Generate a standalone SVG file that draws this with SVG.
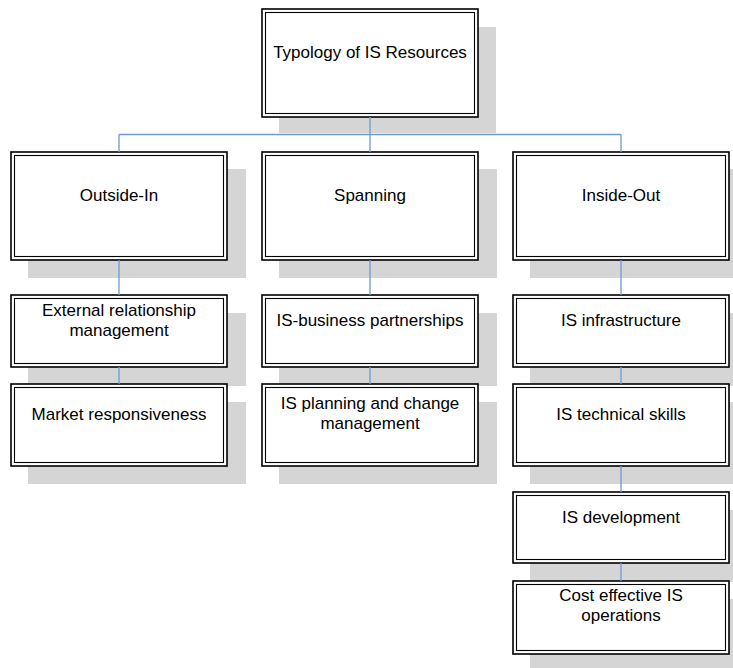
<svg xmlns="http://www.w3.org/2000/svg" width="733" height="668" viewBox="0 0 733 668">
  <style>
    .shadow { fill: #d5d5d5; stroke: none; }
    .outer { fill: #ffffff; stroke: #000000; stroke-width: 1.6; }
    .inner { fill: none; stroke: #000000; stroke-width: 1.1; }
    .label { font-family: "Liberation Sans", Arial, sans-serif; font-size: 17px; fill: #000000; text-anchor: middle; }
    .conn { stroke: #6b9bd6; stroke-width: 1.3; fill: none; }
  </style>
  <rect width="733" height="668" fill="#ffffff"/>

  <!-- root -->
  <g id="root">
    <rect class="shadow" x="279" y="27" width="217" height="106"/>
    <rect class="outer" x="262" y="9" width="216" height="108"/>
    <rect class="inner" x="265.5" y="12.5" width="209" height="101"/>
    <text class="label" x="370" y="58">Typology of IS Resources</text>
  </g>

  <!-- level 2 -->
  <g id="outside-in">
    <rect class="shadow" x="28" y="169" width="218" height="109"/>
    <rect class="outer" x="11" y="152" width="216" height="108"/>
    <rect class="inner" x="14.5" y="155.5" width="209" height="101"/>
    <text class="label" x="119" y="201">Outside-In</text>
  </g>
  <g id="spanning">
    <rect class="shadow" x="279" y="169" width="218" height="109"/>
    <rect class="outer" x="262" y="152" width="216" height="108"/>
    <rect class="inner" x="265.5" y="155.5" width="209" height="101"/>
    <text class="label" x="370" y="201">Spanning</text>
  </g>
  <g id="inside-out">
    <rect class="shadow" x="530" y="169" width="218" height="109"/>
    <rect class="outer" x="513" y="152" width="216" height="108"/>
    <rect class="inner" x="516.5" y="155.5" width="209" height="101"/>
    <text class="label" x="621" y="201">Inside-Out</text>
  </g>

  <!-- outside-in column -->
  <g id="external-relationship">
    <rect class="shadow" x="28" y="313" width="218" height="73"/>
    <rect class="outer" x="11" y="295" width="216" height="72"/>
    <rect class="inner" x="14.5" y="298.5" width="209" height="65"/>
    <text class="label" x="119" y="316">External relationship</text>
    <text class="label" x="119" y="336">management</text>
  </g>
  <g id="market-responsiveness">
    <rect class="shadow" x="28" y="402" width="218" height="82"/>
    <rect class="outer" x="11" y="384" width="216" height="82"/>
    <rect class="inner" x="14.5" y="387.5" width="209" height="75"/>
    <text class="label" x="119" y="420">Market responsiveness</text>
  </g>

  <!-- spanning column -->
  <g id="is-business-partnerships">
    <rect class="shadow" x="279" y="313" width="218" height="73"/>
    <rect class="outer" x="262" y="295" width="216" height="72"/>
    <rect class="inner" x="265.5" y="298.5" width="209" height="65"/>
    <text class="label" x="370" y="326">IS-business partnerships</text>
  </g>
  <g id="is-planning">
    <rect class="shadow" x="279" y="402" width="218" height="82"/>
    <rect class="outer" x="262" y="384" width="216" height="82"/>
    <rect class="inner" x="265.5" y="387.5" width="209" height="75"/>
    <text class="label" x="370" y="409">IS planning and change</text>
    <text class="label" x="370" y="429">management</text>
  </g>

  <!-- inside-out column -->
  <g id="is-infrastructure">
    <rect class="shadow" x="530" y="313" width="218" height="73"/>
    <rect class="outer" x="513" y="295" width="216" height="72"/>
    <rect class="inner" x="516.5" y="298.5" width="209" height="65"/>
    <text class="label" x="621" y="326">IS infrastructure</text>
  </g>
  <g id="is-technical-skills">
    <rect class="shadow" x="530" y="402" width="218" height="82"/>
    <rect class="outer" x="513" y="384" width="216" height="82"/>
    <rect class="inner" x="516.5" y="387.5" width="209" height="75"/>
    <text class="label" x="621" y="420">IS technical skills</text>
  </g>
  <g id="is-development">
    <rect class="shadow" x="530" y="510" width="218" height="72"/>
    <rect class="outer" x="513" y="492" width="216" height="71"/>
    <rect class="inner" x="516.5" y="495.5" width="209" height="64"/>
    <text class="label" x="621" y="523">IS development</text>
  </g>
  <g id="cost-effective-operations">
    <rect class="shadow" x="530" y="599" width="218" height="80"/>
    <rect class="outer" x="513" y="581" width="216" height="73"/>
    <rect class="inner" x="516.5" y="584.5" width="209" height="66"/>
    <text class="label" x="621" y="601">Cost effective IS</text>
    <text class="label" x="621" y="621">operations</text>
  </g>

  <!-- connectors -->
  <g id="connectors">
    <path class="conn" d="M370 117 V134.5 M119 134.5 H621 M119 134.5 V152 M370 134.5 V152 M621 134.5 V152"/>
    <path class="conn" d="M119 260 V295 M119 367 V384"/>
    <path class="conn" d="M370 260 V295 M370 367 V384"/>
    <path class="conn" d="M621 260 V295 M621 367 V384 M621 466 V492 M621 563 V581"/>
  </g>
</svg>
